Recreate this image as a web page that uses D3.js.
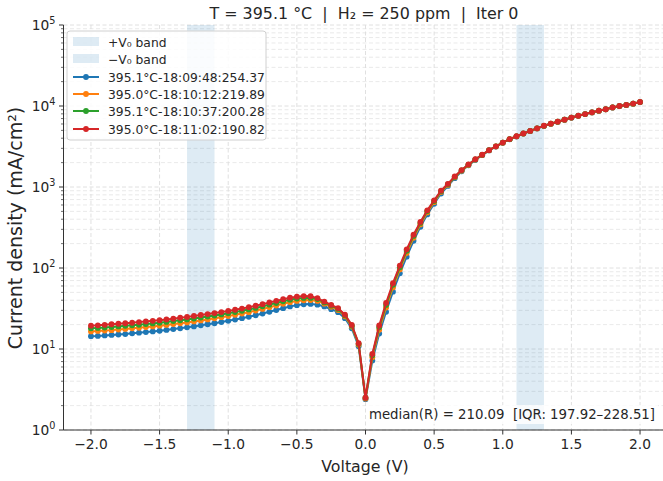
<!DOCTYPE html>
<html><head><meta charset="utf-8">
<script src="https://cdn.jsdelivr.net/npm/d3@7"></script>
<style>
html,body{margin:0;padding:0;background:#fff;}
text{font-family:"DejaVu Sans",sans-serif;fill:#262626;}
</style></head>
<body><svg id="c" width="663" height="481"></svg>
<script>
const voltages = [-2.0,-1.95,-1.9,-1.85,-1.8,-1.75,-1.7,-1.65,-1.6,-1.55,-1.5,-1.45,-1.4,-1.35,-1.3,-1.25,-1.2,-1.15,-1.1,-1.05,
 -1.0,-0.95,-0.9,-0.85,-0.8,-0.75,-0.7,-0.65,-0.6,-0.55,-0.5,-0.45,-0.4,-0.35,-0.3,-0.25,-0.2,-0.15,-0.1,-0.05,
 0.0,0.05,0.1,0.15,0.2,0.25,0.3,0.35,0.4,0.45,0.5,0.55,0.6,0.65,0.7,0.75,0.8,0.85,0.9,0.95,
 1.0,1.05,1.1,1.15,1.2,1.25,1.3,1.35,1.4,1.45,1.5,1.55,1.6,1.65,1.7,1.75,1.8,1.85,1.9,1.95,2.0];

const seriesNames = ["395.1°C-18:09:48:254.37","395.0°C-18:10:12:219.89","395.1°C-18:10:37:200.28","395.0°C-18:11:02:190.82"];
const seriesColors = ["#1f77b4","#ff7f0e","#2ca02c","#d62728"];

const blueValues = [14.4,14.5,14.7,14.9,15.1,15.3,15.6,15.9,16.2,16.5,16.8,17.2,17.6,18.0,18.5,19.0,19.6,20.2,20.8,21.5,
 22.3,23.1,24.0,25.0,26.1,27.4,28.8,30.3,31.9,33.5,34.8,35.7,36.0,35.3,33.5,31.0,28.5,24.0,18.0,10.8,
 2.4,7.2,15.5,28.8,51,86,138,217,323,458,620,830,1030,1285,1560,1850,2160,2470,2825,3160,
 3520,3880,4210,4560,4910,5280,5680,6030,6380,6760,7180,7560,7940,8330,8730,9100,9580,9980,10280,10680,11170];

const orangeValues = [16.5,16.7,16.9,17.1,17.4,17.7,18.0,18.3,18.7,19.0,19.4,19.8,20.3,20.8,21.3,21.9,22.5,23.2,23.9,24.7,
 25.5,26.4,27.4,28.5,29.8,31.2,32.8,34.4,36.1,37.8,39.2,40.0,40.2,39.2,36.3,33.2,30.2,25.3,18.9,11.3,
 2.45,7.9,17.3,32.5,57.5,96,153,236,345,485,650,865,1060,1315,1590,1875,2180,2485,2835,3170,
 3530,3890,4220,4570,4920,5290,5690,6040,6390,6770,7190,7570,7950,8340,8740,9110,9590,9990,10290,10690,11180];

const greenValues = [18.0,18.2,18.4,18.7,19.0,19.3,19.6,19.9,20.3,20.7,21.1,21.6,22.1,22.6,23.2,23.8,24.5,25.2,25.9,26.7,
 27.6,28.6,29.6,30.8,32.1,33.6,35.3,37.0,38.8,40.6,42.0,42.7,42.7,41.3,37.6,34.3,31.2,26.0,19.4,11.6,
 2.5,8.4,18.6,35,62,102,163,249,360,505,672,885,1080,1335,1605,1890,2190,2495,2845,3175,
 3535,3895,4225,4575,4925,5295,5695,6045,6395,6775,7195,7575,7955,8345,8745,9115,9595,9995,10295,10695,11190];

const redValues = [19.4,19.6,19.9,20.2,20.5,20.8,21.1,21.5,21.9,22.3,22.7,23.2,23.7,24.3,24.9,25.6,26.3,27.0,27.8,28.6,
 29.5,30.5,31.6,32.8,34.2,35.8,37.5,39.3,41.2,43.0,44.3,45.0,44.8,42.5,38.5,35.0,32.0,26.5,19.8,11.8,
 2.5,8.7,19.5,37,65,107,170,258,370,515,685,900,1095,1350,1620,1900,2200,2500,2850,3180,
 3540,3900,4230,4580,4930,5300,5700,6050,6400,6780,7200,7580,7960,8350,8750,9120,9600,10000,10300,10700,11200];

const bands = [{label:"+V\u2080 band", lo:1.1, hi:1.3},{label:"\u2212V\u2080 band", lo:-1.3, hi:-1.1}];
const xTicks = [-2.0,-1.5,-1.0,-0.5,0.0,0.5,1.0,1.5,2.0];
const yTickExps = [0,1,2,3,4,5];
const titleText = "T = 395.1 \u00B0C  |  H\u2082 = 250 ppm  |  Iter 0";
const xLabel = "Voltage (V)";
const yLabel = "Current density (mA/cm\u00B2)";
const annotation = "median(R) = 210.09  [IQR: 197.92\u2013228.51]";

const allSeries = [blueValues, orangeValues, greenValues, redValues];

const svg = d3.select("#c");
const x = d3.scaleLinear().domain([-2.2, 2.2]).range([63.5, 667.5]);
const y = d3.scaleLog().domain([1, 1e5]).range([430, 25]);
const X0 = 63.5, X1 = 663, Y0 = 25, Y1 = 430;

// grid
const grid = svg.append("g");
const minorY = [];
for (const e of [0,1,2,3,4]) for (let k=2;k<=9;k++) minorY.push(k*Math.pow(10,e));
grid.selectAll(".gm").data(minorY).enter().append("line")
  .attr("x1",X0).attr("x2",X1).attr("y1",d=>y(d)).attr("y2",d=>y(d))
  .attr("stroke","#e3e3e3").attr("stroke-width",0.8).attr("stroke-dasharray","4,2.5");
grid.selectAll(".gM").data(yTickExps.map(e=>Math.pow(10,e))).enter().append("line")
  .attr("x1",X0).attr("x2",X1).attr("y1",d=>y(d)).attr("y2",d=>y(d))
  .attr("stroke","#dcdcdc").attr("stroke-width",0.9).attr("stroke-dasharray","4,2.5");
grid.selectAll(".gx").data(xTicks).enter().append("line")
  .attr("x1",d=>x(d)).attr("x2",d=>x(d)).attr("y1",Y0).attr("y2",Y1)
  .attr("stroke","#dcdcdc").attr("stroke-width",0.9).attr("stroke-dasharray","4,2.5");

// bands
svg.selectAll(".band").data(bands).enter().append("rect")
  .attr("x",d=>x(d.lo)).attr("width",d=>x(d.hi)-x(d.lo))
  .attr("y",Y0).attr("height",Y1-Y0).attr("fill","#1f77b4").attr("fill-opacity",0.15);

// series
const line = d3.line().x((d,i)=>x(voltages[i])).y(d=>y(d));
allSeries.forEach((vals,si)=>{
  const g = svg.append("g");
  g.append("path").datum(vals).attr("d",line).attr("fill","none")
    .attr("stroke",seriesColors[si]).attr("stroke-width",2);
  g.selectAll("circle").data(vals).enter().append("circle")
    .attr("cx",(d,i)=>x(voltages[i])).attr("cy",d=>y(d)).attr("r",2.9)
    .attr("fill",seriesColors[si]);
});

// axes
const ax = svg.append("g");
ax.append("line").attr("x1",X0).attr("x2",X0).attr("y1",Y0).attr("y2",Y1).attr("stroke","#333").attr("stroke-width",1);
ax.append("line").attr("x1",X0).attr("x2",X1).attr("y1",Y1).attr("y2",Y1).attr("stroke","#333").attr("stroke-width",1);
xTicks.forEach(t=>{
  ax.append("line").attr("x1",x(t)).attr("x2",x(t)).attr("y1",Y1).attr("y2",Y1+4.5).attr("stroke","#333");
  ax.append("text").attr("x",x(t)).attr("y",Y1+19).attr("text-anchor","middle").attr("font-size",13.8)
    .text(t<0 ? "\u2212"+Math.abs(t).toFixed(1) : t.toFixed(1));
});
minorY.forEach(v=>{
  ax.append("line").attr("x1",X0).attr("x2",X0-2.5).attr("y1",y(v)).attr("y2",y(v)).attr("stroke","#333").attr("stroke-width",0.7);
});
yTickExps.forEach(e=>{
  const v = Math.pow(10,e);
  ax.append("line").attr("x1",X0).attr("x2",X0-4.5).attr("y1",y(v)).attr("y2",y(v)).attr("stroke","#333");
  const t = ax.append("text").attr("x",X0-8).attr("y",y(v)+5).attr("text-anchor","end").attr("font-size",13.8);
  t.append("tspan").text("10");
  t.append("tspan").attr("dy",-6).attr("font-size",9.7).text(String(e));
});

// labels
svg.append("text").attr("x",365).attr("y",472).attr("text-anchor","middle").attr("font-size",15.8).text(xLabel);
svg.append("text").attr("transform","translate(22,228) rotate(-90)").attr("text-anchor","middle").attr("font-size",19).text(yLabel);
svg.append("text").attr("x",364).attr("y",19).attr("text-anchor","middle").attr("font-size",15.9)
  .style("white-space","pre").text(titleText);

// annotation
const ann = svg.append("g");
const at = ann.append("text").attr("x",655).attr("y",419).attr("text-anchor","end").attr("font-size",13.3)
  .style("white-space","pre").text(annotation);
const bb = at.node().getBBox();
ann.insert("rect","text").attr("x",bb.x-3).attr("y",bb.y-2).attr("width",bb.width+6).attr("height",bb.height+4)
  .attr("fill","#fff").attr("fill-opacity",0.8);

// legend
const lg = svg.append("g");
lg.append("rect").attr("x",67).attr("y",31).attr("width",199).attr("height",109).attr("rx",3)
  .attr("fill","#fff").attr("fill-opacity",0.85).attr("stroke","#d0d0d0");
const rowY = [42,59,77,94,111,129];
bands.forEach((b,i)=>{
  lg.append("rect").attr("x",73).attr("y",rowY[i]-5).attr("width",26).attr("height",9)
    .attr("fill","#1f77b4").attr("fill-opacity",0.15);
  lg.append("text").attr("x",108).attr("y",rowY[i]+4.5).attr("font-size",12.3).text(b.label);
});
seriesNames.forEach((n,i)=>{
  const ry = rowY[i+2];
  lg.append("line").attr("x1",73).attr("x2",99).attr("y1",ry).attr("y2",ry).attr("stroke",seriesColors[i]).attr("stroke-width",2);
  lg.append("circle").attr("cx",86).attr("cy",ry).attr("r",2.9).attr("fill",seriesColors[i]);
  lg.append("text").attr("x",108).attr("y",ry+4.5).attr("font-size",12.3).text(n);
});
</script></body></html>
